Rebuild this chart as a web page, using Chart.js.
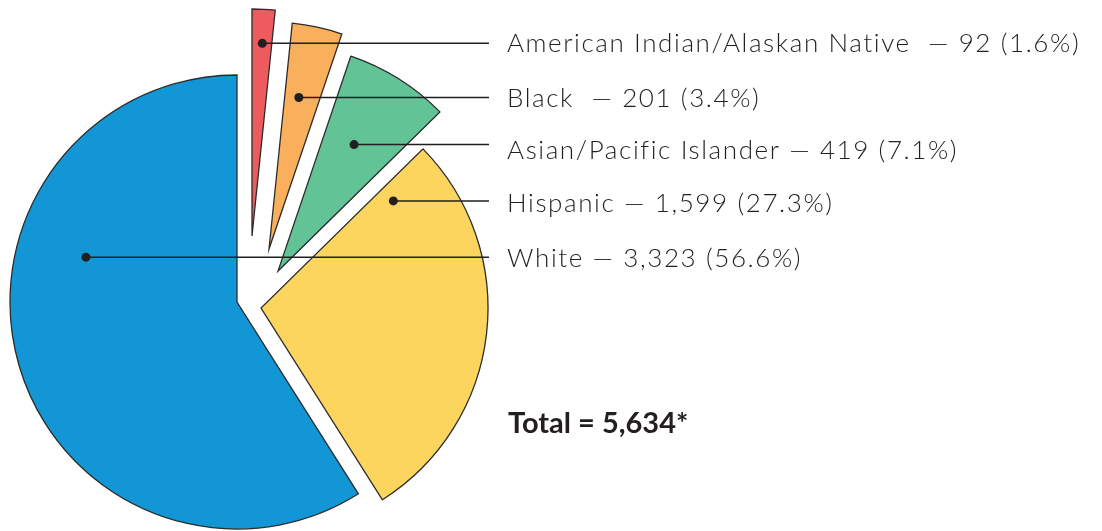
<!DOCTYPE html>
<html><head><meta charset="utf-8">
<script src="https://cdn.jsdelivr.net/npm/chart.js@4/dist/chart.umd.min.js"></script>
<style>html,body{margin:0;padding:0;background:#fff;} #wrap{position:relative;width:1102px;height:531px;}</style>
</head><body><div id="wrap"><canvas id="c" width="1102" height="531"></canvas></div>
<script>
// ---- data ----
const categories = ['American Indian/Alaskan Native', 'Black', 'Asian/Pacific Islander', 'Hispanic', 'White'];
const counts = [92, 201, 419, 1599, 3323];
const countLabels = ['92', '201', '419', '1,599', '3,323'];
const percentLabels = ['1.6%', '3.4%', '7.1%', '27.3%', '56.6%'];
const totalLabel = 'Total = 5,634*';

// ---- styles / layout ----
const colors = ['#EE5B5E', '#F9AF5C', '#62C396', '#FCD55E', '#1296D5'];
const explode = [[15, -66], [32, -53], [41, -31], [24, 6], [0, 0]];
const dotPlace = [[0.52, 0.85], [0.41, 0.68], [0.46, 0.65], [0.054, 0.75], [0.654, 0.694]];
const separators = ['  \u2014 ', '  \u2014 ', ' \u2014 ', ' \u2014 ', ' \u2014 '];
const textShift = [0, 0, 5, 2, 1];
const LABEL_X = 507, LINE_END_X = 489, INK = '#231F20';
const LABEL_FONT = '300 26px Lato';

const explodePlugin = {
  id: 'explode',
  afterUpdate(chart) {
    const meta = chart.getDatasetMeta(0);
    meta.data.forEach((arc, i) => {
      arc.x += explode[i][0];
      arc.y += explode[i][1];
    });
  },
  afterDatasetsDraw(chart) {
    const ctx = chart.ctx;
    const meta = chart.getDatasetMeta(0);
    ctx.save();
    meta.data.forEach((arc, i) => {
      const a = arc.startAngle + dotPlace[i][0] * (arc.endAngle - arc.startAngle);
      const r = dotPlace[i][1] * arc.outerRadius;
      const px = arc.x + r * Math.cos(a);
      const py = arc.y + r * Math.sin(a);
      ctx.strokeStyle = INK;
      ctx.lineWidth = 1.5;
      ctx.beginPath();
      ctx.moveTo(px, py);
      ctx.lineTo(LINE_END_X, py);
      ctx.stroke();
      ctx.fillStyle = INK;
      ctx.beginPath();
      ctx.arc(px, py, 4.5, 0, Math.PI * 2);
      ctx.fill();
      ctx.font = LABEL_FONT;
      ctx.letterSpacing = '1.6px';
      ctx.textBaseline = 'alphabetic';
      ctx.textAlign = 'left';
      const txt = categories[i] + separators[i] + countLabels[i] + ' (' + percentLabels[i] + ')';
      ctx.fillText(txt, LABEL_X, py + textShift[i] + 9);
    });
    ctx.letterSpacing = '0px';
    ctx.font = 'bold 29px Lato';
    ctx.fillStyle = INK;
    ctx.fillText(totalLabel, 508, 433);
    ctx.restore();
  }
};

new Chart(document.getElementById('c'), {
  type: 'pie',
  data: {
    labels: categories,
    datasets: [{
      data: counts,
      backgroundColor: colors,
      borderColor: '#2B2B2B',
      borderWidth: 1.3,
      borderJoinStyle: 'miter',
      radius: 227,
      clip: false
    }]
  },
  options: {
    responsive: false,
    animation: false,
    events: [],
    layout: { padding: { left: 0, right: 628, top: 73, bottom: 0 } },
    plugins: { legend: { display: false }, tooltip: { enabled: false } }
  },
  plugins: [explodePlugin]
});
</script>
</body></html>
